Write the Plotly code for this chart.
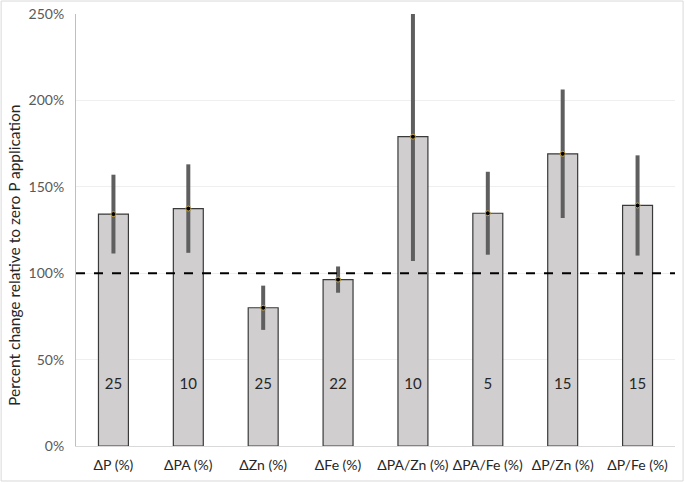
import plotly.graph_objects as go

categories = ["ΔP (%)", "ΔPA (%)", "ΔZn (%)", "ΔFe (%)", "ΔPA/Zn (%)", "ΔPA/Fe (%)", "ΔP/Zn (%)", "ΔP/Fe (%)"]
values = [134.2, 137.4, 80.0, 96.3, 179.0, 134.7, 169.1, 139.2]
errors = [22.8, 25.6, 12.8, 7.6, 72.0, 24.0, 37.2, 29.0]
counts = ["25", "10", "25", "22", "10", "5", "15", "15"]
label_y = 35
ref_line = 100
y_ticks = [0, 50, 100, 150, 200, 250]
y_ticklabels = ["0%", "50%", "100%", "150%", "200%", "250%"]
y_title = "Percent change relative to zero P application"

FONT = "Lato, Carlito, Calibri, sans-serif"

fig = go.Figure()
fig.add_trace(go.Bar(
    x=categories, y=values,
    marker=dict(color="#d0cece", line=dict(color="#3a3a3a", width=1.2)),
    width=0.4,
    showlegend=False,
    hoverinfo="skip",
))
fig.add_trace(go.Scatter(
    x=categories, y=values, mode="markers",
    marker=dict(color="black", size=5, line=dict(color="#c9a640", width=1)),
    error_y=dict(type="data", array=errors, visible=True, color="#5f5f5f", thickness=4, width=0),
    showlegend=False, cliponaxis=True, hoverinfo="skip",
))
fig.add_trace(go.Scatter(
    x=categories, y=[label_y] * len(categories), mode="text",
    text=counts, textfont=dict(family=FONT, size=15, color="#262626"),
    showlegend=False, hoverinfo="skip",
))
fig.add_shape(type="line", xref="paper", yref="y", x0=0, x1=1, y0=ref_line, y1=ref_line,
              line=dict(color="black", width=2, dash="dash"), layer="above")
fig.add_shape(type="rect", xref="paper", yref="paper", x0=-0.125, x1=1.0135, y0=-0.081, y1=1.03,
              line=dict(color="#d9d9d9", width=1))
fig.add_annotation(text=y_title, xref="paper", yref="paper", x=-0.1035, y=0.44,
                   xanchor="center", yanchor="middle", textangle=-90, showarrow=False,
                   font=dict(family=FONT, size=15.5, color="#262626"))

fig.update_layout(
    width=685, height=483,
    margin=dict(l=76, r=10, t=14, b=37),
    paper_bgcolor="white", plot_bgcolor="white",
    font=dict(family=FONT, size=14, color="#595959"),
    bargap=0.6,
)
fig.update_xaxes(
    showline=True, linecolor="#d9d9d9", linewidth=1, automargin=False,
    ticks="", tickfont=dict(family=FONT, size=14, color="#262626"),
    ticklabelstandoff=6,
    showgrid=False,
)
fig.update_yaxes(
    range=[0, 250], tickvals=y_ticks, ticktext=y_ticklabels, automargin=False,
    showline=True, linecolor="#bfbfbf", linewidth=1,
    showgrid=True, gridcolor="#efefef", gridwidth=1,
    zeroline=False, ticks="",
    ticklabelstandoff=8,
    tickfont=dict(family=FONT, size=14, color="#595959"),
)
fig.write_html("out.html", config={"displayModeBar": False},
               post_script="document.body.style.margin='0';")
